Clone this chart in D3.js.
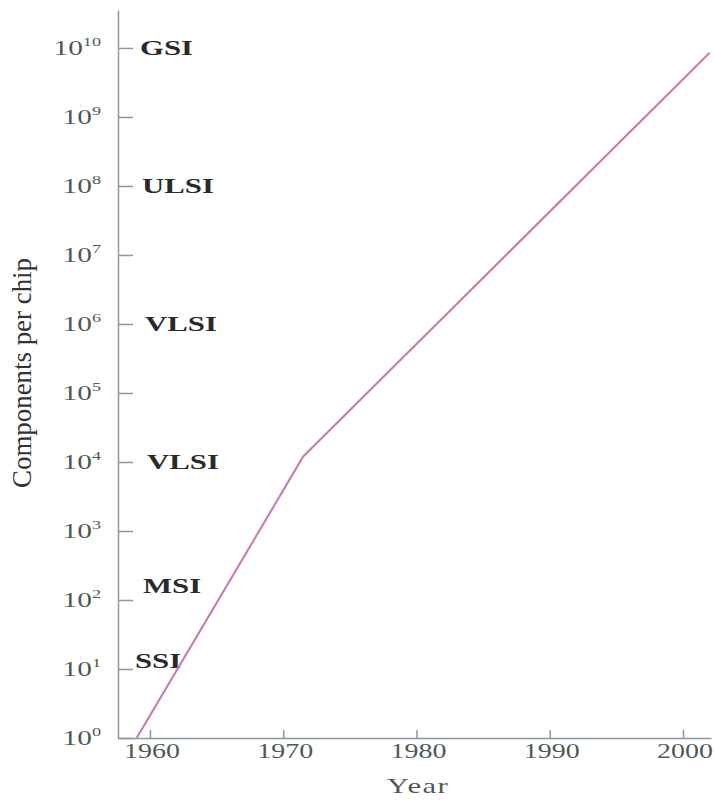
<!DOCTYPE html>
<html>
<head>
<meta charset="utf-8">
<script src="https://cdn.jsdelivr.net/npm/d3@7"></script>
<style>
  body { margin: 0; background: #fff; }
  svg { display: block; font-family: "Liberation Serif", "DejaVu Serif", serif; }
</style>
</head>
<body>
<svg width="715" height="800"></svg>
<script>
// data
let years = [1959, 1971.5, 2002]
let counts = [1, 1.2e4, 8.5e9]

let xTicks = [1960, 1970, 1980, 1990, 2000]
let yExps = [0, 1, 2, 3, 4, 5, 6, 7, 8, 9, 10]

let bandNames = ["SSI", "MSI", "VLSI", "VLSI", "ULSI", "GSI"]
let bandLevels = [1.3e1, 1.6e2, 1e4, 1e6, 1e8, 1e10]

const w = 715
const h = 800
const sx = 1.4   // the scan is stretched sideways

let svg = d3.select('svg')

let xScale = d3.scaleLinear()
  .domain([1957.6, 2002.1])
  .range([118, 711])

let yScale = d3.scaleLog()
  .domain([1, Math.pow(10, 10.55)])
  .range([738, 10])

let axisColor = "#8a99a3"

// x axis, ticks pointing up
let xAxis = d3.axisBottom(xScale)
  .tickValues(xTicks)
  .tickSizeInner(-8)
  .tickSizeOuter(0)
  .tickFormat("")

let gx = svg.append("g")
  .attr("transform", "translate(0," + yScale(1) + ")")
  .call(xAxis)
gx.selectAll("path, line").attr("stroke", axisColor).attr("stroke-width", 1.5)

// y axis, ticks pointing right
let yAxis = d3.axisLeft(yScale)
  .tickValues(yExps.map(e => Math.pow(10, e)))
  .tickSizeInner(-15)
  .tickSizeOuter(0)
  .tickFormat("")

let gy = svg.append("g")
  .attr("transform", "translate(" + xScale(1957.6) + ",0)")
  .call(yAxis)
gy.selectAll("path, line").attr("stroke", axisColor).attr("stroke-width", 1.5)

// y tick labels 10^n
let yLab = svg.append("g")
  .selectAll("text")
  .data(yExps)
  .enter()
  .append("text")
  .attr("transform", d => "translate(101," + (yScale(Math.pow(10, d)) + 7) + ") scale(" + sx + ",1)")
  .attr("text-anchor", "end")
  .attr("font-size", 21)
  .attr("fill", "#4f5a55")
yLab.append("tspan").text("10")
yLab.append("tspan")
  .attr("font-size", 13)
  .attr("dy", -9)
  .text(d => d)

// x tick labels
svg.append("g")
  .selectAll("text")
  .data(xTicks)
  .enter()
  .append("text")
  .attr("transform", d => "translate(" + (xScale(d) + 2) + ",758) scale(" + sx + ",1)")
  .attr("text-anchor", "middle")
  .attr("font-size", 20)
  .attr("fill", "#4f5a55")
  .text(d => d)

// axis titles
svg.append("text")
  .attr("transform", "translate(418,793) scale(" + sx + ",1)")
  .attr("text-anchor", "middle")
  .attr("font-size", 22)
  .attr("letter-spacing", 1)
  .attr("fill", "#4f5a55")
  .text("Year")

svg.append("text")
  .attr("transform", "translate(31,373) rotate(-90) scale(1," + sx + ")")
  .attr("text-anchor", "middle")
  .attr("font-size", 20)
  .attr("textLength", 230)
  .attr("lengthAdjust", "spacingAndGlyphs")
  .attr("fill", "#333")
  .text("Components per chip")

// integration level names
let bandX = [135, 143, 147, 145, 142, 140]
svg.append("g")
  .selectAll("text")
  .data(bandNames)
  .enter()
  .append("text")
  .attr("transform", (d, i) => "translate(" + bandX[i] + "," + (yScale(bandLevels[i]) + 7) + ") scale(" + sx + ",1)")
  .attr("font-size", 22)
  .attr("font-weight", "bold")
  .attr("fill", "#2a2a2a")
  .text(d => d)

// the growth line
let line = d3.line()
  .x((d, i) => xScale(years[i]))
  .y(d => yScale(d))

svg.append("path")
  .datum(counts)
  .attr("d", line)
  .attr("fill", "none")
  .attr("stroke", "#c77fb2")
  .attr("stroke-width", 2.2)
</script>
</body>
</html>
